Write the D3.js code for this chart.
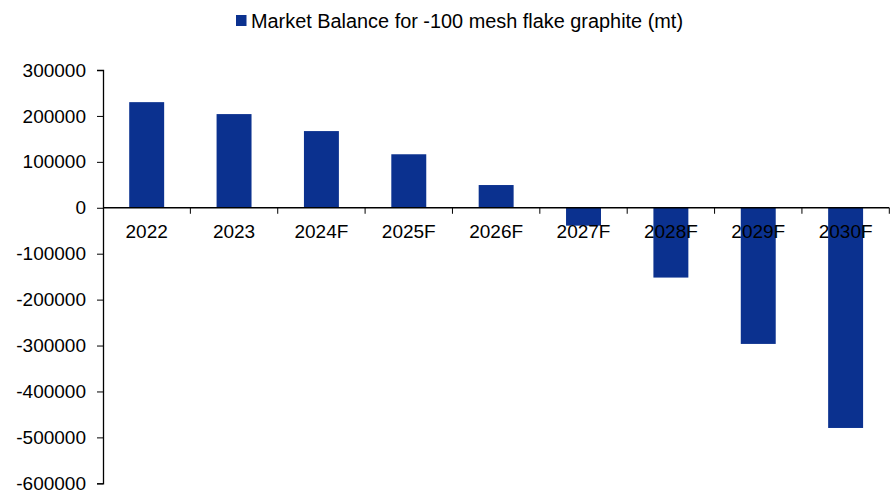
<!DOCTYPE html>
<html>
<head>
<meta charset="utf-8">
<script src="https://cdn.jsdelivr.net/npm/d3@7"></script>
<style>
  html, body { margin: 0; padding: 0; background: #ffffff; }
  svg { display: block; }
  text { font-family: "Liberation Sans", Arial, sans-serif; fill: #000; }
</style>
</head>
<body>
<svg id="chart" width="896" height="490"></svg>
<script>
// Market balance, -100 mesh flake graphite (metric tonnes)
const years = ["2022", "2023", "2024F", "2025F", "2026F", "2027F", "2028F", "2029F", "2030F"];
const balance = [230000, 204000, 167000, 116500, 49500, -39000, -152000, -296500, -479500];
const yTicks = [300000, 200000, 100000, 0, -100000, -200000, -300000, -400000, -500000, -600000];
const seriesName = "Market Balance for -100 mesh flake graphite (mt)";

const barColor = "#0b318f";
const fontSize = 19;

const svg = d3.select("#chart");
const plot = { left: 103, right: 889.3, top: 70, bottom: 483.3 };

const x = d3.scaleBand().domain(years).range([plot.left, plot.right]).paddingInner(0.6).paddingOuter(0.3);
const xb = d3.scaleBand().domain(years).range([plot.left, plot.right]);
const y = d3.scaleLinear().domain([-600000, 300000]).range([plot.bottom, plot.top]);

// bars
svg.append("g").selectAll("rect").data(years).join("rect")
  .attr("x", d => x(d))
  .attr("width", x.bandwidth())
  .attr("y", (d, i) => y(Math.max(0, balance[i])))
  .attr("height", (d, i) => Math.abs(y(balance[i]) - y(0)))
  .attr("fill", barColor);

// value axis (plain hyphen for negatives)
const yAxis = svg.append("g")
  .attr("transform", `translate(${plot.left},0)`)
  .call(d3.axisLeft(y).tickValues(yTicks).tickFormat(d => String(d)).tickSize(6).tickPadding(11));
yAxis.select(".domain").attr("stroke", "#000").attr("stroke-width", 1.3);
yAxis.selectAll(".tick line").attr("stroke", "#000");
yAxis.selectAll("text").style("font-size", fontSize + "px").attr("fill", "#000")
  .style("font-family", '"Liberation Sans", Arial, sans-serif');

// category axis along zero line
const xAxis = svg.append("g")
  .attr("transform", `translate(0,${y(0)})`)
  .call(d3.axisBottom(xb).tickSize(0).tickPadding(17));
xAxis.select(".domain").attr("stroke", "#000").attr("stroke-width", 1.3).attr("d", `M${plot.left},0H${plot.right}`);
xAxis.selectAll("text").style("font-size", fontSize + "px").attr("fill", "#000")
  .style("font-family", '"Liberation Sans", Arial, sans-serif');

// category separators
const seps = years.map(d => xb(d) + xb.bandwidth());
svg.append("g").selectAll("line").data(seps).join("line")
  .attr("x1", d => d).attr("x2", d => d)
  .attr("y1", y(0)).attr("y2", y(0) + 6)
  .attr("stroke", "#000").attr("stroke-width", 1);

// legend
const lg = svg.append("g");
lg.append("rect").attr("x", 236).attr("y", 15).attr("width", 10.5).attr("height", 11).attr("fill", barColor);
lg.append("text").attr("x", 251).attr("y", 28).style("font-size", "19.5px")
  .attr("textLength", 432).attr("lengthAdjust", "spacingAndGlyphs").text(seriesName);
</script>
</body>
</html>
